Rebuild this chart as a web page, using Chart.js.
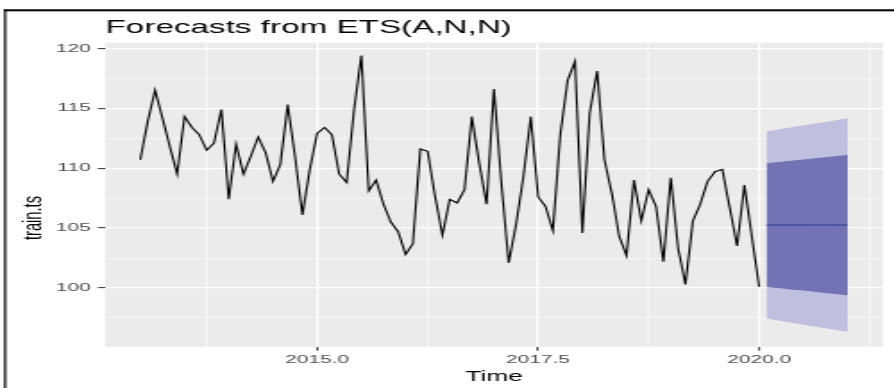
<!DOCTYPE html>
<html>
<head>
<meta charset="utf-8">
<title>Forecasts from ETS(A,N,N)</title>
<script src="https://cdn.jsdelivr.net/npm/chart.js@4"></script>
<style>
  html, body { margin: 0; padding: 0; background: #fff; overflow: hidden; }
  /* plot is laid out at 500px and stretched out to the full 894px width */
  #wrap { position: relative; width: 500px; height: 388px; transform: scaleX(1.788); transform-origin: 0 0; }
</style>
</head>
<body>
<div id="wrap"><canvas id="fcChart"></canvas></div>
<script>
// monthly series, starting Jan 2013
const startYear = 2013;
const trainTs = [
  110.7, 113.9, 116.5, 114.2, 111.8, 109.5, 114.3, 113.4, 112.8, 111.5, 112.1, 114.9,
  107.4, 112.0, 109.5, 111.0, 112.6, 111.3, 108.9, 110.3, 115.3, 111.0, 106.1, 109.9,
  112.9, 113.4, 112.8, 109.5, 108.8, 114.8, 119.4, 108.1, 109.0, 107.0, 105.5, 104.7,
  102.8, 103.7, 111.6, 111.4, 107.7, 104.4, 107.4, 107.1, 108.2, 114.3, 110.4, 107.0,
  116.6, 108.8, 102.1, 105.3, 109.3, 114.3, 107.6, 106.8, 104.8, 112.8, 117.3, 118.9,
  104.6, 114.6, 118.1, 110.7, 107.9, 104.3, 102.7, 109.0, 105.6, 108.2, 106.8, 102.2,
  109.2, 103.3, 100.3, 105.6, 107.0, 108.9, 109.7, 109.9, 106.7, 103.5, 108.6, 104.3,
  100.1
];

// 12-month forecast: point forecast and 80% / 95% intervals
const fcMean = [105.25, 105.25, 105.25, 105.25, 105.25, 105.25, 105.25, 105.25, 105.25, 105.25, 105.25, 105.25];
const fcLo80 = [100.1, 100.03, 99.97, 99.9, 99.84, 99.78, 99.72, 99.65, 99.59, 99.52, 99.46, 99.39];
const fcHi80 = [110.4, 110.47, 110.53, 110.6, 110.66, 110.72, 110.78, 110.85, 110.91, 110.98, 111.04, 111.11];
const fcLo95 = [97.45, 97.34, 97.24, 97.14, 97.03, 96.93, 96.83, 96.73, 96.64, 96.54, 96.44, 96.34];
const fcHi95 = [113.07, 113.17, 113.27, 113.37, 113.47, 113.57, 113.67, 113.77, 113.86, 113.96, 114.06, 114.16];

const yMajor = [100, 105, 110, 115, 120];
const yMinor = [97.5, 102.5, 107.5, 112.5, 117.5];
const xMajor = [2015, 2017.5, 2020];
const xMinor = [2013.75, 2016.25, 2018.75, 2021.25];

const titleText = 'Forecasts from ETS(A,N,N)';
const xTitle = 'Time';
const yTitle = 'train.ts';

const obsPoints = trainTs.map((v, i) => ({ x: startYear + i / 12, y: v }));
const fcPoints = arr => arr.map((v, i) => ({ x: startYear + (trainTs.length + i) / 12, y: v }));

const FONT = '"Liberation Sans", Arial, sans-serif';
Chart.defaults.font.family = FONT;

// grey panel behind the grid
const panelBg = {
  id: 'panelBg',
  beforeDraw(chart) {
    const { ctx, chartArea: a } = chart;
    ctx.save();
    ctx.fillStyle = '#EBEBEB';
    ctx.fillRect(a.left, a.top, a.right - a.left, a.bottom - a.top);
    ctx.restore();
  }
};

// title, axis titles and the outer frame
const textLayer = {
  id: 'textLayer',
  afterDraw(chart) {
    const { ctx, chartArea: a } = chart;
    ctx.save();
    ctx.fillStyle = '#000';
    ctx.fillRect(2.3, 9.3, chart.width, 2);
    ctx.fillRect(2.3, 9.3, 1.2, chart.height);

    ctx.font = '18.6px ' + FONT;
    ctx.textAlign = 'left';
    ctx.textBaseline = 'alphabetic';
    ctx.fillText(titleText, 59, 33);

    ctx.font = '14.7px ' + FONT;
    ctx.textAlign = 'center';
    ctx.textBaseline = 'middle';
    ctx.fillText(xTitle, (a.left + a.right) / 2, 377);

    ctx.translate(18.5, 218);
    ctx.rotate(-Math.PI / 2);
    ctx.fillText(yTitle, 0, 0);
    ctx.restore();
  }
};

const isMajor = (list, c) => c.tick && list.includes(c.tick.value);

new Chart(document.getElementById('fcChart'), {
  type: 'line',
  data: {
    datasets: [
      { label: yTitle, data: obsPoints, borderColor: '#000000', borderWidth: 1.1, pointRadius: 0, tension: 0, fill: false, order: 0 },
      { label: 'mean', data: fcPoints(fcMean), borderColor: '#2B3A98', borderWidth: 1, pointRadius: 0, fill: false, order: 1 },
      { label: 'lo80', data: fcPoints(fcLo80), borderColor: 'rgba(0,0,0,0)', borderWidth: 0, pointRadius: 0, fill: false, order: 2 },
      { label: 'hi80', data: fcPoints(fcHi80), borderColor: 'rgba(0,0,0,0)', borderWidth: 0, pointRadius: 0, fill: 2, backgroundColor: '#7272B4', order: 3 },
      { label: 'lo95', data: fcPoints(fcLo95), borderColor: 'rgba(0,0,0,0)', borderWidth: 0, pointRadius: 0, fill: false, order: 4 },
      { label: 'hi95', data: fcPoints(fcHi95), borderColor: 'rgba(0,0,0,0)', borderWidth: 0, pointRadius: 0, fill: 4, backgroundColor: '#C0BFE0', order: 5 }
    ]
  },
  options: {
    responsive: true,
    maintainAspectRatio: false,
    animation: false,
    layout: { padding: { top: 42.7, right: 6.2, bottom: 0, left: 0 } },
    plugins: { legend: { display: false }, tooltip: { enabled: false } },
    scales: {
      x: {
        type: 'linear',
        min: 2012.6,
        max: 2021.4,
        afterBuildTicks: s => { s.ticks = xMinor.concat(xMajor).sort((a, b) => a - b).map(v => ({ value: v })); },
        afterFit: s => { s.height = 41.3; },
        border: { display: false },
        grid: {
          color: '#FFFFFF',
          lineWidth: c => isMajor(xMajor, c) ? 1.2 : 0.6,
          tickLength: 4,
          tickWidth: 1,
          tickColor: c => isMajor(xMajor, c) ? '#333333' : 'rgba(0,0,0,0)'
        },
        ticks: {
          autoSkip: false,
          maxRotation: 0,
          padding: 2,
          color: '#4D4D4D',
          font: { size: 11.7 },
          callback: v => xMajor.includes(v) ? v.toFixed(1) : ''
        }
      },
      y: {
        min: 95.1,
        max: 120.47,
        afterBuildTicks: s => { s.ticks = yMinor.concat(yMajor).sort((a, b) => a - b).map(v => ({ value: v })); },
        afterFit: s => { s.width = 58.7; },
        border: { display: false },
        grid: {
          color: '#FFFFFF',
          lineWidth: c => isMajor(yMajor, c) ? 1.2 : 0.6,
          tickLength: 4,
          tickWidth: 1,
          tickColor: c => isMajor(yMajor, c) ? '#333333' : 'rgba(0,0,0,0)'
        },
        ticks: {
          padding: 4,
          color: '#4D4D4D',
          font: { size: 11.7 },
          callback: v => yMajor.includes(v) ? String(v) : ''
        }
      }
    }
  },
  plugins: [panelBg, textLayer]
});
</script>
</body>
</html>
